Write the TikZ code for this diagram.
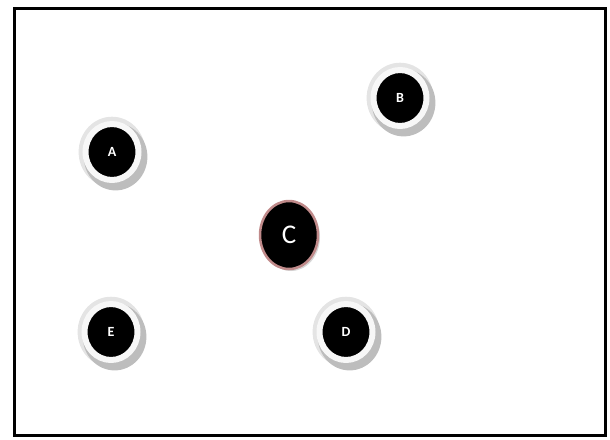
\documentclass[tikz,border=0pt]{standalone}
\usepackage{fontspec}
\setsansfont{Carlito}
\usetikzlibrary{shapes.geometric,shadows}
\definecolor{ringgris}{HTML}{F7F7F7}
\definecolor{ombre}{HTML}{BDBDBD}
\definecolor{halo}{HTML}{E4E4E4}
\definecolor{bordrose}{HTML}{C08A8A}

\tikzset{
  vertex/.style={ellipse, fill=black, draw=ringgris, line width=6pt,
    minimum width=53pt, minimum height=56pt, inner sep=0pt,
    text=white, font=\sffamily\bfseries\fontsize{14}{14}\selectfont,
    general shadow={shadow scale=1.26, fill=halo},
    drop shadow={shadow xshift=3pt, shadow yshift=-4pt, shadow scale=1.2, fill=ombre, opacity=1}},
  centre/.style={ellipse, fill=black, draw=bordrose, line width=2.5pt,
    minimum width=58pt, minimum height=68pt, inner sep=0pt,
    text=white, font=\sffamily\fontsize{27}{27}\selectfont,
    drop shadow={shadow xshift=2pt, shadow yshift=-2pt, fill=ombre!60, opacity=1}}
}

\begin{document}
\begin{tikzpicture}[x=1pt, y=-1pt]
  \useasboundingbox (0,0) rectangle (610,439);
  % cadre
  \draw[line width=3pt] (14,8) rectangle (605,435);
  % sommets
  \node[vertex] (A) at (112,152) {A};
  \node[vertex] (B) at (400,98) {B};
  \node[centre] (C) at (289,235) {C};
  \node[vertex] (D) at (346,332) {D};
  \node[vertex] (E) at (111,332) {E};
\end{tikzpicture}
\end{document}
